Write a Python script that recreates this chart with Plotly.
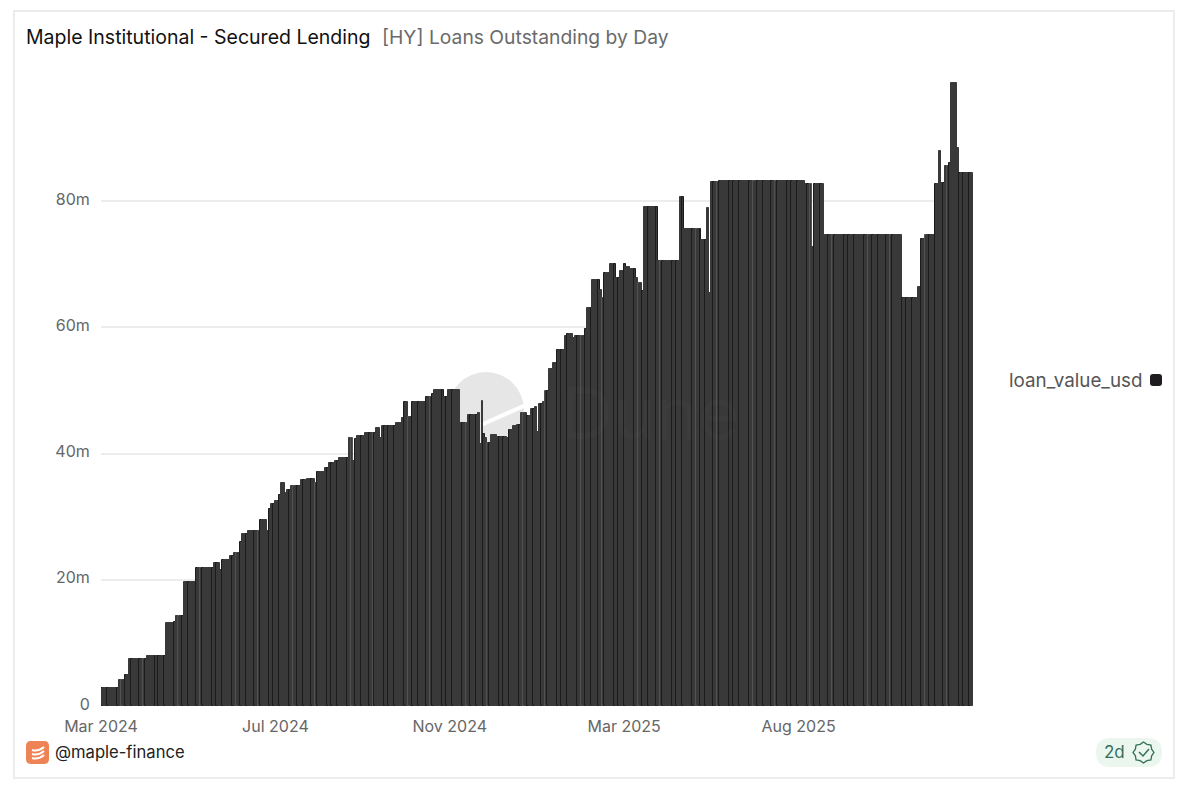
import math
import plotly.graph_objects as go

# ==========================
# Maple Institutional - Secured Lending, loans outstanding
# ==========================

# values, in millions of USD, one per bar
loan_value_usd = [
    2.9, 2.9, 2.9, 2.9, 2.9, 2.9, 2.9, 2.9, 2.9, 4.2, 4.2, 4.2, 4.9, 4.9,
    7.4, 7.4, 7.4, 7.4, 7.4, 7.4, 7.4, 7.4, 7.4,
    8.0, 8.0, 8.0, 8.0, 8.0, 8.0, 8.0, 8.0, 8.0, 8.0,
    13.1, 13.1, 13.1, 13.1, 13.3, 14.3, 14.3, 14.3, 14.3,
    19.6, 19.6, 19.6, 19.6, 19.6, 19.6, 21.8, 21.8, 21.8, 21.8, 21.8,
    21.9, 21.9, 21.9, 21.9, 22.6, 22.6, 22.6, 21.5, 23.2, 23.2, 23.2, 23.2,
    23.7, 23.7, 24.2, 24.2, 24.2, 26.0, 27.3, 27.3, 27.3,
    27.8, 27.8, 27.8, 27.8, 27.8, 27.8, 29.4, 29.4, 29.4, 29.4, 27.8,
    31.3, 32.0, 32.0, 32.5, 32.5, 33.5, 35.3, 35.3, 33.8, 34.3, 34.3,
    34.9, 34.9, 34.9, 34.9, 34.9, 35.8, 35.8, 35.8, 35.9, 35.9, 35.9, 35.9,
    35.4, 37.1, 37.1, 37.1, 37.1, 37.7, 37.7, 38.5, 38.5, 38.5, 38.8, 38.8,
    39.3, 39.3, 39.3, 39.3, 39.3, 42.5, 42.5, 38.8, 42.3,
    42.8, 42.8, 42.8, 42.8, 43.3, 43.3, 43.3, 43.3, 43.3, 43.3,
    44.0, 44.0, 42.4, 44.4, 44.4, 44.4, 44.4, 44.4, 44.4, 44.4,
    44.9, 44.9, 44.9, 45.7, 48.1, 48.1, 45.8, 45.8,
    48.2, 48.2, 48.2, 48.2, 48.2, 48.2, 48.2, 49.0, 49.0, 49.0, 49.5,
    50.1, 50.1, 50.1, 50.1, 50.1, 48.9, 48.9,
    50.1, 50.1, 50.1, 50.1, 50.1, 50.1, 44.9, 44.9, 44.9, 44.9,
    46.1, 46.1, 46.1, 46.1, 46.1, 46.5, 41.6, 48.3, 43.1, 42.4, 41.7, 41.7,
    42.9, 42.9, 42.9, 42.7, 42.7, 42.7, 42.7, 42.7, 42.4, 43.8, 43.8,
    44.3, 44.3, 44.6, 44.6, 46.4, 46.4, 46.5, 46.0, 46.0, 47.0, 47.0, 47.4,
    43.5, 47.8, 47.8, 48.1, 49.9, 49.9, 53.4, 53.4, 54.3, 54.3,
    56.4, 56.4, 56.4, 56.4, 58.6, 59.0, 59.0, 59.0, 58.3,
    58.7, 58.7, 58.7, 58.7, 58.7, 59.7, 63.1, 63.1, 63.1,
    67.5, 67.5, 67.5, 67.5, 66.0, 64.6, 68.6, 68.6, 68.6, 70.0, 70.0, 70.0,
    67.8, 67.8, 68.9, 68.9, 70.0, 69.6, 69.6, 69.3, 69.3, 69.3, 67.9,
    67.0, 67.0, 65.8, 79.1, 79.1, 79.1, 79.1, 79.1, 79.1, 79.1,
    70.6, 70.6, 70.6, 70.6, 70.6, 70.6, 70.6, 70.6, 70.6, 70.6, 70.6,
    80.6, 80.6, 75.6, 75.6, 75.6, 75.6, 75.6, 75.6, 75.6, 75.6, 75.6,
    73.9, 73.9, 73.9, 78.9, 65.5, 83.0, 83.0, 83.0, 83.0,
    83.2, 83.2, 83.2, 83.2, 83.2, 83.2, 83.2, 83.2, 83.2, 83.2, 83.2,
    83.2, 83.2, 83.2, 83.2, 83.2, 83.2, 83.2, 83.2, 83.2, 83.2, 83.2,
    83.2, 83.2, 83.2, 83.2, 83.2, 83.2, 83.2, 83.2, 83.2, 83.2, 83.2,
    83.2, 83.2, 83.2, 83.2, 83.2, 83.2, 83.2, 83.2, 83.2, 83.2,
    82.7, 82.7, 82.7, 82.7, 72.8, 82.8, 82.8, 82.8, 82.8, 82.8,
    74.7, 74.7, 74.7, 74.7, 74.7, 74.7, 74.7, 74.7, 74.7, 74.7, 74.7,
    74.7, 74.7, 74.7, 74.7, 74.7, 74.7, 74.7, 74.7, 74.7, 74.7, 74.7,
    74.7, 74.7, 74.7, 74.7, 74.7, 74.7, 74.7, 74.7, 74.7, 74.7, 74.7,
    74.7, 74.7, 74.7, 74.7, 74.7, 74.7,
    64.7, 64.7, 64.7, 64.7, 64.7, 64.7, 64.7, 64.7, 66.4, 66.4, 74.0, 74.0,
    74.7, 74.7, 74.7, 74.7, 74.7, 82.7, 82.7, 88.0, 82.9, 82.9, 85.6, 85.6,
    86.1, 98.8, 98.8, 98.8, 88.4,
    84.4, 84.4, 84.4, 84.4, 84.4, 84.4, 84.4,
]
bar_index = list(range(len(loan_value_usd)))

x_tick_index = [0, 88, 176, 264, 352]
x_tick_labels = ["Mar 2024", "Jul 2024", "Nov 2024", "Mar 2025", "Aug 2025"]
y_tick_values = [0, 20, 40, 60, 80]
y_tick_labels = ["0", "20m", "40m", "60m", "80m"]

FILL = "#3a393a"
SEAM = "#1b1b1b"
STREAK = "#525252"
# outline colours repeated along the bars, gives the uneven seams of the original
seam_cycle = [
    SEAM, FILL, FILL, SEAM, FILL, FILL, FILL, FILL, SEAM, FILL, STREAK, FILL, SEAM, FILL, FILL,
    SEAM, FILL, FILL, FILL, SEAM, FILL, STREAK, SEAM, FILL, FILL, FILL, FILL, SEAM, FILL,
]

FONT = "Inter"
W, H = 1200, 789
LEFT, RIGHT, TOP, BOTTOM = 101, 973, 70, 706


# page pixels to paper coordinates of the plot area
def px(x):
    return (x - LEFT) / (RIGHT - LEFT)


def py(y):
    return (BOTTOM - y) / (BOTTOM - TOP)


def pt(x, y):
    return f"{px(x):.5f},{py(y):.5f}"


def rounded_rect(x0, y0, x1, y1, r):
    return (
        f"M {pt(x0 + r, y0)} L {pt(x1 - r, y0)} Q {pt(x1, y0)} {pt(x1, y0 + r)} "
        f"L {pt(x1, y1 - r)} Q {pt(x1, y1)} {pt(x1 - r, y1)} "
        f"L {pt(x0 + r, y1)} Q {pt(x0, y1)} {pt(x0, y1 - r)} "
        f"L {pt(x0, y0 + r)} Q {pt(x0, y0)} {pt(x0 + r, y0)} Z"
    )


def paper_shape(**kw):
    return dict(xref="paper", yref="paper", **kw)


def label(x, y, text, size, color, anchor="left"):
    return dict(
        xref="paper", yref="paper", x=px(x), y=py(y), text=text, showarrow=False,
        xanchor=anchor, yanchor="middle", font=dict(family=FONT, size=size, color=color),
    )


shapes = [
    # card border
    paper_shape(type="rect", x0=px(14), y0=py(11), x1=px(1174), y1=py(778),
                line=dict(color="#ececec", width=2), layer="below"),
    # watermark behind the bars
    paper_shape(type="circle", x0=px(448), y0=py(448), x1=px(524), y1=py(372),
                fillcolor="#e6e6e6", line=dict(width=0), layer="below"),
    paper_shape(type="line", x0=px(481), y0=py(425), x1=px(528), y1=py(404),
                line=dict(color="white", width=4), layer="below"),
    # legend marker, sits right of its text
    paper_shape(type="path", path=rounded_rect(1150, 374, 1162, 386, 3),
                fillcolor="#1f1d20", line=dict(width=0)),
    # creator icon
    paper_shape(type="path", path=rounded_rect(26, 741, 49, 764, 5),
                fillcolor="#ee8455", line=dict(width=0)),
    # freshness pill
    paper_shape(type="path", path=rounded_rect(1096, 738, 1162, 767, 14.5),
                fillcolor="#ebf6ef", line=dict(width=0)),
    paper_shape(type="path", path=f"M {pt(1139, 752)} L {pt(1143, 756)} L {pt(1149, 749)}",
                line=dict(color="#33705a", width=1.5)),
]

# stacked coins on the icon
for y in (749, 753, 757):
    shapes.append(paper_shape(
        type="path",
        path=f"M {pt(32, y + 1)} Q {pt(38, y + 3)} {pt(44, y - 2)}",
        line=dict(color="white", width=2),
    ))

# scalloped outline of the check badge
badge = []
for i in range(16):
    r = 10.5 if i % 2 == 0 else 8.8
    a = math.pi * i / 8
    badge.append(pt(1143.5 + r * math.cos(a), 752.5 + r * math.sin(a)))
shapes.append(paper_shape(type="path", path="M " + " L ".join(badge) + " Z",
                          line=dict(color="#33705a", width=1.3)))

annotations = [
    label(24, 37, "Maple Institutional - Secured Lending", 19.5, "#111111"),
    label(380, 37, "[HY] Loans Outstanding by Day", 19.3, "#6a6a6a"),
    label(1144, 380, "loan_value_usd", 18.8, "#555555", anchor="right"),
    label(53, 752, "@maple-finance", 16.6, "#222222"),
    label(1102, 752, "2d", 17, "#33705a"),
    label(650, 412, "Dune", 72, "rgba(255,255,255,0.015)", anchor="center"),
]

seam_colors = [seam_cycle[i % len(seam_cycle)] for i in bar_index]

fig = go.Figure(
    go.Bar(
        x=bar_index,
        y=loan_value_usd,
        name="loan_value_usd",
        width=1,
        marker=dict(color=FILL, line=dict(color=seam_colors, width=1)),
    )
)

fig.update_layout(
    width=W,
    height=H,
    margin=dict(l=LEFT, r=W - RIGHT, t=TOP, b=H - BOTTOM, pad=0),
    paper_bgcolor="white",
    plot_bgcolor="white",
    showlegend=False,
    bargap=0,
    font=dict(family=FONT, size=16, color="#666666"),
    shapes=shapes,
    annotations=annotations,
)
fig.update_xaxes(
    range=[-0.5, len(loan_value_usd) - 0.5],
    tickmode="array",
    tickvals=x_tick_index,
    ticktext=x_tick_labels,
    ticklabelshift=-1,
    showgrid=False,
    zeroline=False,
    showline=False,
    ticks="outside",
    ticklen=6,
    tickcolor="rgba(0,0,0,0)",
)
fig.update_yaxes(
    range=[0, (BOTTOM - TOP) / 6.31],
    tickmode="array",
    tickvals=y_tick_values,
    ticktext=y_tick_labels,
    ticklabelshift=-2,
    gridcolor="#ececec",
    gridwidth=2,
    zeroline=False,
    showline=False,
    ticks="outside",
    ticklen=7,
    tickcolor="rgba(0,0,0,0)",
)

fig.write_html("out.html", config={"displayModeBar": False}, post_script="document.body.style.margin='0';")
